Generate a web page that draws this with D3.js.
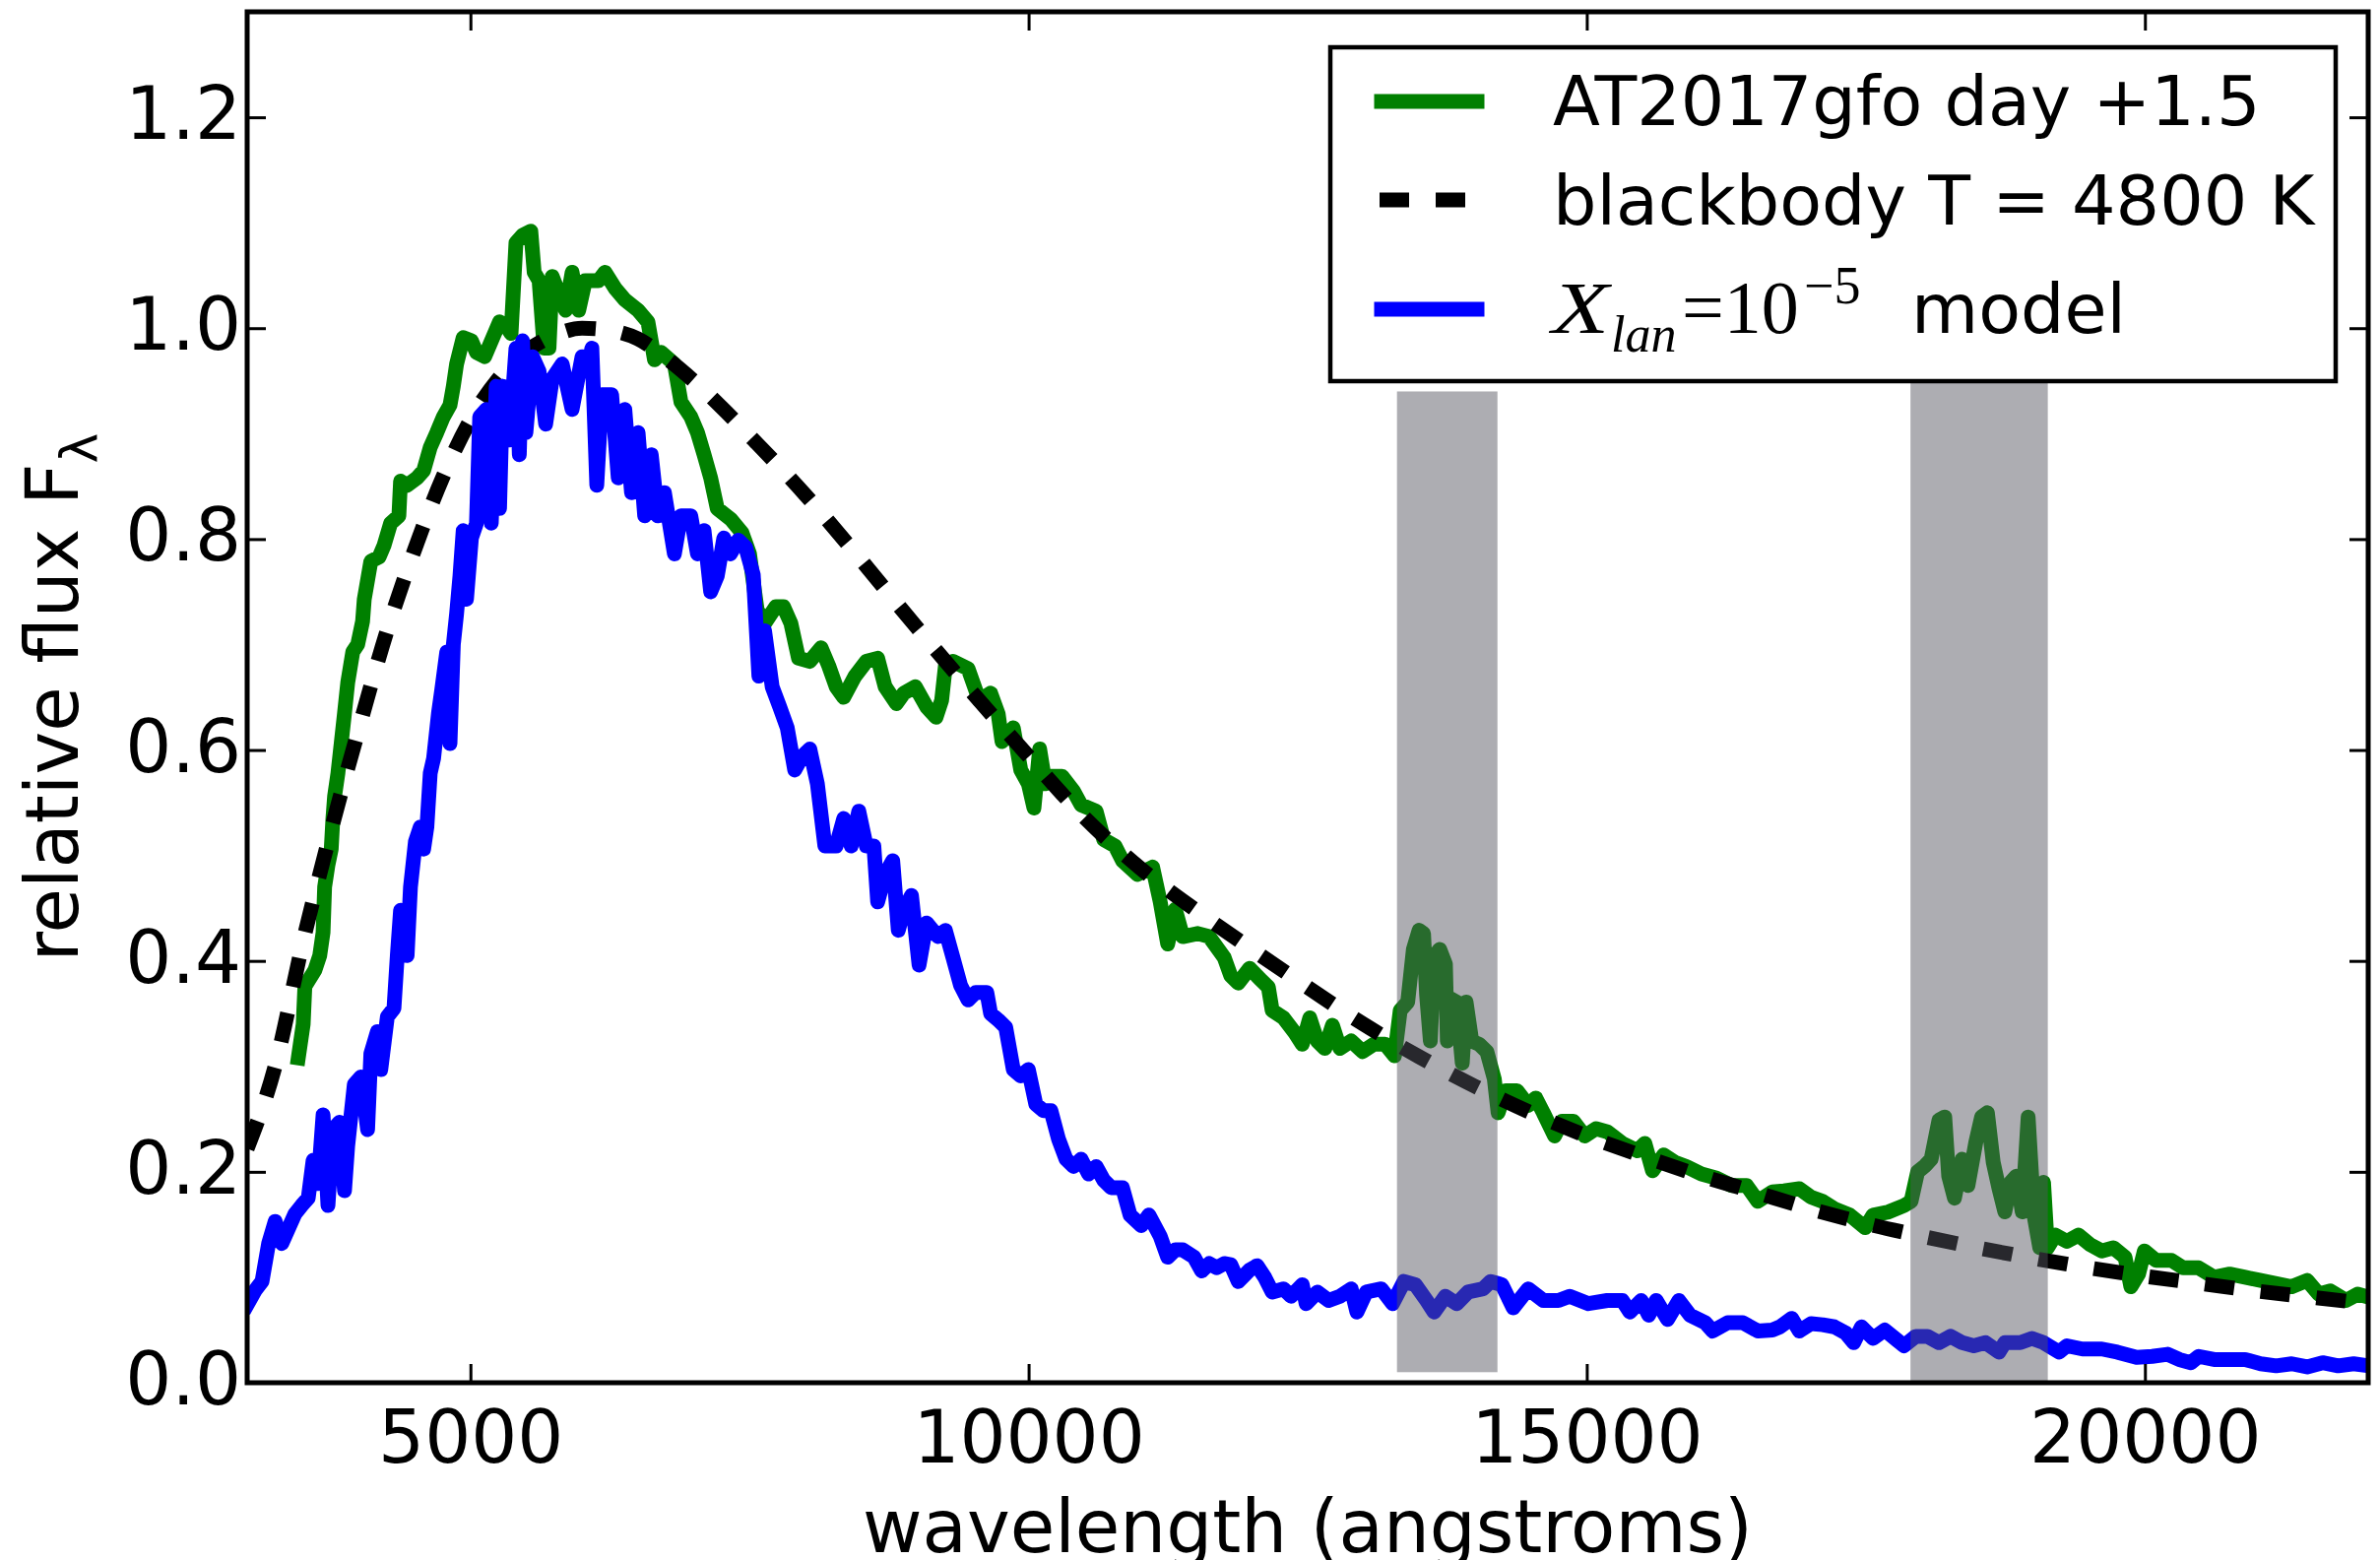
<!DOCTYPE html>
<html>
<head>
<meta charset="utf-8">
<script src="https://d3js.org/d3.v7.min.js"></script>
<style>
  body { margin: 0; background: #fff; }
  text { font-family: "DejaVu Sans", sans-serif; fill: #000; }
</style>
</head>
<body>
<div id="chart"></div>
<script>
// Data: [wavelength (A), relative flux]
// =================================
var observed = [
  [3458,0.308],[3502,0.340],[3517,0.376],[3606,0.391],[3650,0.405],[3680,0.427],[3694,0.470],[3724,0.491],
  [3753,0.506],[3768,0.535],[3783,0.556],[3813,0.578],[3842,0.606],[3872,0.635],[3901,0.664],[3946,0.693],
  [3990,0.700],[4034,0.722],[4049,0.743],[4108,0.779],[4182,0.783],[4226,0.794],[4285,0.815],[4359,0.822],
  [4374,0.855],[4433,0.851],[4522,0.858],[4581,0.865],[4640,0.887],[4699,0.901],[4758,0.916],[4817,0.927],
  [4847,0.945],[4876,0.966],[4935,0.991],[5009,0.988],[5054,0.977],[5128,0.973],[5172,0.984],[5261,1.006],
  [5320,1.002],[5364,0.995],[5408,1.081],[5467,1.088],[5541,1.092],[5571,1.053],[5615,1.045],[5660,0.981],
  [5704,0.981],[5733,1.049],[5852,1.017],[5911,1.053],[5970,1.017],[6029,1.045],[6147,1.045],[6206,1.053],
  [6295,1.038],[6383,1.027],[6502,1.017],[6590,1.006],[6649,0.970],[6709,0.977],[6827,0.966],[6886,0.930],
  [6974,0.916],[7034,0.901],[7093,0.880],[7152,0.858],[7211,0.829],[7331,0.819],[7433,0.806],[7500,0.786],
  [7568,0.733],[7635,0.720],[7736,0.736],[7804,0.736],[7871,0.720],[7939,0.687],[8040,0.684],[8141,0.697],
  [8209,0.680],[8276,0.660],[8344,0.650],[8445,0.670],[8546,0.684],[8648,0.687],[8715,0.660],[8816,0.644],
  [8884,0.654],[8985,0.660],[9086,0.641],[9171,0.631],[9221,0.647],[9255,0.680],[9323,0.684],[9458,0.677],
  [9559,0.647],[9660,0.654],[9728,0.634],[9762,0.608],[9863,0.621],[9930,0.581],[9998,0.568],[10048,0.545],
  [10099,0.601],[10149,0.568],[10200,0.575],[10301,0.575],[10403,0.561],[10470,0.548],[10605,0.542],[10673,0.515],
  [10774,0.509],[10841,0.495],[10976,0.482],[11111,0.489],[11179,0.456],[11246,0.416],[11314,0.449],[11381,0.423],
  [11516,0.426],[11618,0.423],[11753,0.403],[11811,0.386],[11878,0.379],[11980,0.393],[12081,0.382],[12148,0.375],
  [12182,0.353],[12283,0.346],[12384,0.332],[12452,0.321],[12519,0.346],[12587,0.324],[12654,0.317],[12722,0.339],
  [12789,0.317],[12890,0.324],[12992,0.314],[13093,0.321],[13194,0.321],[13278,0.310],[13329,0.353],[13396,0.361],
  [13447,0.411],[13498,0.429],[13538,0.426],[13565,0.368],[13599,0.324],[13632,0.404],[13683,0.411],[13734,0.397],
  [13751,0.324],[13784,0.364],[13835,0.361],[13885,0.303],[13919,0.361],[13970,0.324],[14037,0.321],[14105,0.314],
  [14172,0.288],[14206,0.256],[14273,0.277],[14374,0.277],[14476,0.263],[14543,0.270],[14611,0.256],[14712,0.234],
  [14779,0.248],[14881,0.248],[14982,0.234],[15083,0.241],[15184,0.238],[15319,0.227],[15454,0.220],[15521,0.227],
  [15589,0.201],[15690,0.216],[15791,0.209],[15892,0.205],[16027,0.198],[16162,0.194],[16297,0.187],[16432,0.187],
  [16533,0.172],[16662,0.181],[16766,0.182],[16905,0.184],[17009,0.176],[17113,0.172],[17218,0.165],[17356,0.159],
  [17495,0.147],[17565,0.159],[17704,0.162],[17842,0.168],[17905,0.172],[17964,0.200],[18033,0.206],[18085,0.212],
  [18155,0.249],[18207,0.252],[18242,0.196],[18294,0.175],[18363,0.212],[18415,0.187],[18485,0.228],[18537,0.252],
  [18589,0.256],[18641,0.209],[18693,0.184],[18745,0.162],[18797,0.190],[18849,0.196],[18901,0.162],[18954,0.252],
  [19006,0.159],[19058,0.128],[19092,0.190],[19127,0.128],[19197,0.140],[19301,0.134],[19405,0.140],[19509,0.131],
  [19613,0.125],[19717,0.128],[19822,0.119],[19874,0.091],[19943,0.103],[19995,0.125],[20099,0.116],[20238,0.116],
  [20342,0.109],[20481,0.109],[20620,0.100],[20759,0.103],[20898,0.100],[21037,0.097],[21176,0.094],[21315,0.091],
  [21453,0.097],[21558,0.084],[21662,0.087],[21801,0.078],[21905,0.084],[22009,0.081]
];

var blackbody = [
  [3000,0.222],[3250,0.300],[3500,0.418],[3750,0.523],[4000,0.620],[4250,0.712],[4500,0.790],[4750,0.858],
  [5000,0.913],[5250,0.952],[5500,0.978],[5750,0.993],[6000,1.000],[6250,0.998],[6500,0.990],[6750,0.972],
  [7000,0.950],[7250,0.925],[7500,0.898],[8000,0.842],[8500,0.780],[9000,0.716],[9500,0.654],[10000,0.594],
  [10500,0.536],[11000,0.488],[11500,0.448],[12000,0.411],[12500,0.375],[13000,0.340],[13500,0.309],[14000,0.281],
  [14500,0.256],[15000,0.234],[15500,0.215],[16000,0.197],[16500,0.181],[17000,0.165],[17500,0.151],[18000,0.139],
  [18500,0.128],[19000,0.118],[19500,0.109],[20000,0.101],[20500,0.094],[21000,0.087],[21500,0.081],[22000,0.075]
];

var model = [
  [3000,0.074],[3074,0.088],[3133,0.096],[3192,0.132],[3251,0.153],[3310,0.132],[3369,0.146],[3428,0.160],
  [3488,0.168],[3547,0.175],[3591,0.211],[3635,0.189],[3680,0.254],[3724,0.168],[3768,0.240],[3827,0.247],
  [3872,0.182],[3901,0.225],[3960,0.283],[4019,0.290],[4079,0.240],[4108,0.312],[4167,0.333],[4197,0.297],
  [4256,0.347],[4315,0.355],[4345,0.405],[4374,0.448],[4404,0.434],[4433,0.405],[4463,0.470],[4507,0.513],
  [4551,0.527],[4581,0.506],[4610,0.527],[4640,0.578],[4670,0.592],[4714,0.635],[4743,0.657],[4788,0.693],
  [4817,0.606],[4847,0.700],[4876,0.729],[4906,0.765],[4935,0.808],[4965,0.743],[5009,0.801],[5054,0.815],
  [5083,0.916],[5142,0.923],[5187,0.815],[5231,0.945],[5261,0.829],[5290,0.945],[5349,0.894],[5408,0.981],
  [5438,0.880],[5467,0.988],[5497,0.901],[5556,0.973],[5615,0.959],[5674,0.909],[5733,0.952],[5822,0.966],
  [5911,0.923],[6000,0.973],[6059,0.966],[6088,0.981],[6132,0.851],[6177,0.937],[6265,0.937],[6324,0.858],
  [6383,0.923],[6443,0.844],[6502,0.901],[6561,0.822],[6620,0.880],[6679,0.822],[6738,0.844],[6827,0.786],
  [6886,0.822],[6974,0.822],[7034,0.786],[7093,0.808],[7152,0.750],[7211,0.765],[7270,0.801],[7329,0.786],
  [7399,0.799],[7466,0.792],[7534,0.766],[7584,0.670],[7635,0.713],[7703,0.660],[7770,0.641],[7838,0.621],
  [7905,0.581],[7973,0.594],[8040,0.601],[8108,0.568],[8175,0.509],[8276,0.509],[8344,0.535],[8411,0.509],
  [8479,0.542],[8546,0.509],[8614,0.509],[8648,0.456],[8715,0.482],[8783,0.495],[8833,0.429],[8884,0.449],
  [8951,0.462],[9019,0.396],[9086,0.436],[9188,0.423],[9255,0.429],[9323,0.403],[9390,0.377],[9458,0.363],
  [9525,0.370],[9626,0.370],[9660,0.350],[9728,0.344],[9795,0.337],[9863,0.297],[9930,0.291],[9998,0.297],
  [10065,0.264],[10133,0.258],[10200,0.258],[10268,0.231],[10335,0.212],[10403,0.205],[10470,0.212],[10538,0.198],
  [10605,0.205],[10673,0.192],[10740,0.185],[10841,0.185],[10909,0.159],[11010,0.149],[11078,0.159],[11179,0.139],
  [11246,0.119],[11314,0.126],[11381,0.126],[11483,0.119],[11550,0.106],[11618,0.113],[11685,0.109],[11753,0.113],
  [11811,0.112],[11878,0.096],[11980,0.107],[12047,0.111],[12115,0.100],[12182,0.086],[12283,0.089],[12351,0.082],
  [12452,0.093],[12486,0.075],[12587,0.086],[12688,0.078],[12789,0.082],[12890,0.089],[12941,0.067],[13025,0.086],
  [13160,0.089],[13261,0.075],[13363,0.096],[13464,0.093],[13565,0.078],[13632,0.067],[13734,0.082],[13835,0.075],
  [13936,0.086],[14071,0.089],[14139,0.096],[14240,0.093],[14341,0.071],[14476,0.089],[14611,0.078],[14746,0.078],
  [14847,0.082],[15015,0.075],[15184,0.078],[15319,0.078],[15386,0.067],[15488,0.078],[15555,0.064],[15622,0.078],
  [15724,0.060],[15825,0.078],[15926,0.064],[16061,0.057],[16128,0.049],[16263,0.057],[16398,0.057],[16533,0.049],
  [16662,0.050],[16731,0.053],[16836,0.061],[16905,0.049],[17009,0.056],[17113,0.055],[17218,0.053],[17322,0.047],
  [17391,0.038],[17461,0.053],[17565,0.042],[17669,0.050],[17773,0.041],[17842,0.035],[17947,0.044],[18051,0.044],
  [18155,0.038],[18259,0.044],[18363,0.038],[18467,0.035],[18572,0.038],[18693,0.029],[18745,0.038],[18884,0.038],
  [18988,0.042],[19092,0.038],[19231,0.029],[19301,0.035],[19440,0.032],[19614,0.032],[19752,0.029],[19926,0.024],
  [20065,0.025],[20203,0.027],[20308,0.022],[20412,0.019],[20481,0.025],[20620,0.022],[20759,0.022],[20898,0.022],
  [21037,0.018],[21176,0.016],[21315,0.018],[21453,0.015],[21592,0.019],[21731,0.016],[21870,0.018],[22009,0.016]
];

// telluric bands: [start, end] wavelength and [bottom, top] flux
var bandWave = [[13300, 14200], [17900, 19130]];
var bandFlux = [[0.01, 0.94], [0.0, 0.95]];

var xTicks = [5000, 10000, 15000, 20000];
var yTicks = [0.0, 0.2, 0.4, 0.6, 0.8, 1.0, 1.2];
var xDomain = [3000, 22000];
var yDomain = [0, 1.3];

var legendLabels = ["AT2017gfo day +1.5", "blackbody T = 4800 K", "model"];

// Step 1: Set up our chart
//= ================================
var svgWidth = 2417;
var svgHeight = 1584;

var margin = { top: 12, right: 12, bottom: 180, left: 251 };
var width = svgWidth - margin.left - margin.right;
var height = svgHeight - margin.top - margin.bottom;

var lineWidth = 15;
var dashPattern = "30,27";

var svg = d3.select("#chart")
  .append("svg")
  .attr("width", svgWidth)
  .attr("height", svgHeight)
  .style("display", "block");

svg.append("rect").attr("width", svgWidth).attr("height", svgHeight).attr("fill", "#fff");

var chartGroup = svg.append("g")
  .attr("transform", `translate(${margin.left}, ${margin.top})`);

svg.append("defs").append("clipPath").attr("id", "plotclip")
  .append("rect").attr("x", 0).attr("y", 0).attr("width", width).attr("height", height);

// Step 2: Scales
//= ================================
var xScale = d3.scaleLinear().domain(xDomain).range([0, width]);
var yScale = d3.scaleLinear().domain(yDomain).range([height, 0]);

// Step 3: Lines
//= ================================
var line = d3.line()
  .x(d => xScale(d[0]))
  .y(d => yScale(d[1]));

var smoothLine = d3.line()
  .x(d => xScale(d[0]))
  .y(d => yScale(d[1]))
  .curve(d3.curveMonotoneX);

var plotArea = chartGroup.append("g").attr("clip-path", "url(#plotclip)");

plotArea.append("path")
  .datum(observed)
  .attr("d", line)
  .attr("fill", "none")
  .attr("stroke", "#008000")
  .attr("stroke-width", lineWidth)
  .attr("stroke-linejoin", "round")
  .attr("stroke-linecap", "square");

plotArea.append("path")
  .datum(blackbody)
  .attr("d", smoothLine)
  .attr("fill", "none")
  .attr("stroke", "#000")
  .attr("stroke-width", lineWidth)
  .attr("stroke-dasharray", dashPattern);

plotArea.append("path")
  .datum(model)
  .attr("d", line)
  .attr("fill", "none")
  .attr("stroke", "#0000ff")
  .attr("stroke-width", lineWidth)
  .attr("stroke-linejoin", "round")
  .attr("stroke-linecap", "square");

// gray bands sit on top of the lines, semi-transparent
plotArea.selectAll(".band")
  .data(bandWave)
  .enter()
  .append("rect")
  .attr("class", "band")
  .attr("x", d => xScale(d[0]))
  .attr("width", d => xScale(d[1]) - xScale(d[0]))
  .attr("y", (d, i) => yScale(bandFlux[i][1]))
  .attr("height", (d, i) => yScale(bandFlux[i][0]) - yScale(bandFlux[i][1]))
  .attr("fill", "#54545e")
  .attr("fill-opacity", 0.48);

// Step 4: Axes (ticks inside, on all four sides)
//= ================================
var tickLen = 19;
var bottomAxis = d3.axisBottom(xScale).tickValues(xTicks).tickSizeInner(-tickLen).tickSizeOuter(0).tickPadding(28).tickFormat(d3.format("d"));
var topAxis = d3.axisTop(xScale).tickValues(xTicks).tickSizeInner(-tickLen).tickSizeOuter(0).tickFormat("");
var leftAxis = d3.axisLeft(yScale).tickValues(yTicks).tickSizeInner(-tickLen).tickSizeOuter(0).tickPadding(6).tickFormat(d3.format(".1f"));
var rightAxis = d3.axisRight(yScale).tickValues(yTicks).tickSizeInner(-tickLen).tickSizeOuter(0).tickFormat("");

function styleAxis(g) {
  g.select(".domain").remove();
  g.selectAll(".tick line").attr("stroke", "#000").attr("stroke-width", 3);
  g.selectAll(".tick text")
    .attr("fill", "#000")
    .style("font-family", "'DejaVu Sans', sans-serif")
    .style("font-size", "74px");
}

chartGroup.append("g").attr("transform", `translate(0, ${height})`).call(bottomAxis).call(styleAxis);
chartGroup.append("g").call(topAxis).call(styleAxis);
chartGroup.append("g").call(leftAxis).call(styleAxis)
  .selectAll(".tick text").attr("dy", "0.29em");
chartGroup.append("g").attr("transform", `translate(${width}, 0)`).call(rightAxis).call(styleAxis);

// spines
chartGroup.append("rect")
  .attr("width", width)
  .attr("height", height)
  .attr("fill", "none")
  .attr("stroke", "#000")
  .attr("stroke-width", 5);

// Step 5: Axis titles
//= ================================
svg.append("text")
  .attr("x", margin.left + width / 2)
  .attr("y", 1576)
  .attr("text-anchor", "middle")
  .style("font-size", "74px")
  .text("wavelength (angstroms)");

var yTitle = svg.append("text")
  .attr("transform", `translate(79, ${margin.top + height / 2}) rotate(-90)`)
  .attr("text-anchor", "middle")
  .style("font-size", "74px");
yTitle.append("tspan").text("relative flux F");
yTitle.append("tspan").attr("dy", 19).style("font-size", "52px").text("\u03bb");

// Step 6: Legend
//= ================================
var legend = svg.append("g");
legend.append("rect")
  .attr("x", 1351).attr("y", 48)
  .attr("width", 1021).attr("height", 339)
  .attr("fill", "#fff")
  .attr("stroke", "#000")
  .attr("stroke-width", 4.5);

var legendRows = [103, 203, 314];
var legendStyles = [
  { color: "#008000", dash: null },
  { color: "#000", dash: dashPattern },
  { color: "#0000ff", dash: null }
];

legendStyles.forEach(function(s, i) {
  legend.append("line")
    .attr("x1", s.dash ? 1401 : 1403).attr("x2", s.dash ? 1502 : 1500)
    .attr("y1", legendRows[i]).attr("y2", legendRows[i])
    .attr("stroke", s.color)
    .attr("stroke-width", lineWidth)
    .attr("stroke-linecap", s.dash ? "butt" : "square")
    .attr("stroke-dasharray", s.dash);
});

var legendBase = [127, 228, 338];
legend.append("text").attr("x", 1577).attr("y", legendBase[0]).style("font-size", "70px").text(legendLabels[0]);
legend.append("text").attr("x", 1577).attr("y", legendBase[1]).style("font-size", "70px").text(legendLabels[1]);

// third label mixes math (serif) with plain text
var mathLabel = legend.append("text").attr("y", legendBase[2]).style("font-size", "70px");
var serif = "'Liberation Serif', 'DejaVu Serif', serif";
mathLabel.append("tspan").attr("x", 1576).style("font-family", serif).style("font-style", "italic").style("font-size", "74px")
  .attr("textLength", 58).attr("lengthAdjust", "spacingAndGlyphs").text("X");
mathLabel.append("tspan").attr("x", 1636).attr("dy", 19).style("font-family", serif).style("font-style", "italic").style("font-size", "52px").text("lan");
mathLabel.append("tspan").attr("x", 1708).attr("dy", -19).style("font-family", serif).style("font-size", "76px").text("=10");
mathLabel.append("tspan").attr("x", 1832).attr("dy", -30).style("font-family", serif).style("font-size", "54px").text("\u22125");
mathLabel.append("tspan").attr("x", 1941).attr("dy", 30).text(legendLabels[2]);
</script>
</body>
</html>
